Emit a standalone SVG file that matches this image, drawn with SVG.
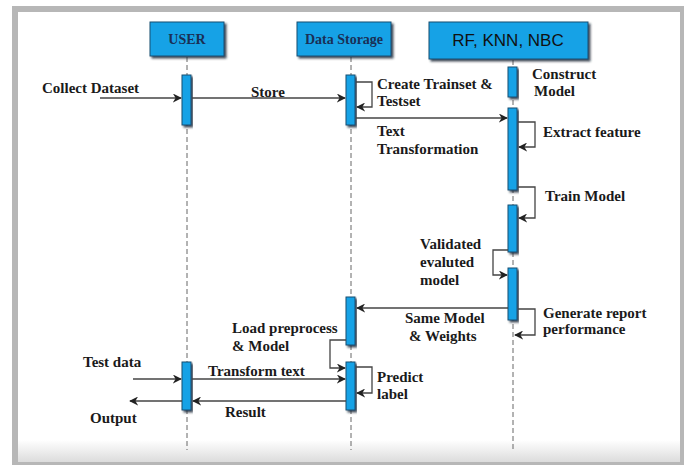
<svg xmlns="http://www.w3.org/2000/svg" width="688" height="467" viewBox="0 0 688 467">
  <defs>
    <marker id="arrow" viewBox="0 0 10 10" refX="9" refY="5" markerWidth="9" markerHeight="9" markerUnits="userSpaceOnUse" orient="auto">
      <path d="M0,0 L10,5 L0,10 L3,5 Z" fill="#222"/>
    </marker>
    <linearGradient id="bottomFade" x1="0" y1="0" x2="0" y2="1">
      <stop offset="0" stop-color="#ffffff"/>
      <stop offset="1" stop-color="#dcdcdc"/>
    </linearGradient>
    <filter id="shadow" x="-10%" y="-10%" width="130%" height="140%">
      <feDropShadow dx="2" dy="2" stdDeviation="0.8" flood-color="#1b2b3a" flood-opacity="0.85"/>
    </filter>
  </defs>
  <style>
    .frame { fill: #b7b7b7; }
    .head { fill: #13a2e6; stroke: #1d4f73; stroke-width: 1; filter: url(#shadow); }
    .bar { fill: #13a2e6; stroke: #1d4f73; stroke-width: 1; filter: url(#shadow); }
    .life { stroke: #666; stroke-width: 1; stroke-dasharray: 5 3; fill: none; }
    .msg { stroke: #444; stroke-width: 1.3; fill: none; marker-end: url(#arrow); }
    .lbl { font-family: "Liberation Serif", "Times New Roman", serif; font-weight: bold; font-size: 15px; fill: #1a1a1a; }
    .htxt { font-family: "Liberation Serif", "Times New Roman", serif; font-weight: bold; font-size: 14px; fill: #1a2f55; text-anchor: middle; }
    .hsans { font-family: "Liberation Sans", Arial, sans-serif; font-size: 17px; fill: #111; text-anchor: middle; }
  </style>

  <!-- page frame -->
  <rect class="frame" x="12" y="6" width="672" height="459"/>
  <rect x="18" y="12" width="662" height="450" fill="#ffffff"/>
  <rect x="18" y="440" width="662" height="22" fill="url(#bottomFade)"/>

  <!-- lifelines -->
  <g id="lifelines">
    <line class="life" x1="187" y1="57" x2="187" y2="450"/>
    <line class="life" x1="351" y1="57" x2="351" y2="450"/>
    <line class="life" x1="513" y1="60" x2="513" y2="450"/>
  </g>

  <!-- participants -->
  <g id="user">
    <rect class="head" x="150" y="22" width="74" height="34"/>
    <text class="htxt" x="187" y="44">USER</text>
  </g>
  <g id="data-storage">
    <rect class="head" x="297" y="22" width="94" height="34"/>
    <text class="htxt" x="344" y="44">Data Storage</text>
  </g>
  <g id="models">
    <rect class="head" x="429" y="22" width="159" height="37"/>
    <text class="hsans" x="508" y="46">RF, KNN, NBC</text>
  </g>

  <!-- activation bars -->
  <g id="activations">
    <rect class="bar" x="182" y="75" width="9" height="50"/>
    <rect class="bar" x="346" y="75" width="9" height="50"/>
    <rect class="bar" x="508" y="67" width="9" height="30"/>
    <rect class="bar" x="508" y="108" width="9" height="82"/>
    <rect class="bar" x="508" y="205" width="9" height="47"/>
    <rect class="bar" x="508" y="268" width="9" height="52"/>
    <rect class="bar" x="346" y="297" width="9" height="48"/>
    <rect class="bar" x="346" y="362" width="9" height="48"/>
    <rect class="bar" x="182" y="362" width="9" height="48"/>
  </g>

  <!-- messages -->
  <g id="connectors">
    <path class="msg" d="M100,98 L181,98"/>
    <path class="msg" d="M192,98 L345,98"/>
    <path class="msg" d="M356,82 L372,82 L372,107 L357,107"/>
    <path class="msg" d="M356,118 L507,118"/>
    <path class="msg" d="M518,122 L535,122 L535,147 L519,147"/>
    <path class="msg" d="M518,187 L535,187 L535,218 L519,218"/>
    <path class="msg" d="M508,250 L493,250 L493,275 L507,275"/>
    <path class="msg" d="M508,308 L357,308"/>
    <path class="msg" d="M518,309 L535,309 L535,335 L515,335"/>
    <path class="msg" d="M346,340 L330,340 L330,368 L345,368"/>
    <path class="msg" d="M133,379 L181,379"/>
    <path class="msg" d="M192,379 L345,379"/>
    <path class="msg" d="M356,367 L372,367 L372,393 L357,393"/>
    <path class="msg" d="M346,401 L193,401"/>
    <path class="msg" d="M182,401 L130,401"/>
  </g>

  <!-- message labels -->
  <g id="labels">
    <text class="lbl" x="42" y="93">Collect Dataset</text>
    <text class="lbl" x="251" y="97">Store</text>
    <text class="lbl" x="377" y="89">Create Trainset &amp;</text>
    <text class="lbl" x="377" y="106">Testset</text>
    <text class="lbl" x="532" y="79">Construct</text>
    <text class="lbl" x="534" y="96">Model</text>
    <text class="lbl" x="377" y="136">Text</text>
    <text class="lbl" x="377" y="154">Transformation</text>
    <text class="lbl" x="543" y="137">Extract feature</text>
    <text class="lbl" x="545" y="201">Train Model</text>
    <text class="lbl" x="420" y="249">Validated</text>
    <text class="lbl" x="420" y="267">evaluted</text>
    <text class="lbl" x="420" y="285">model</text>
    <text class="lbl" x="405" y="323">Same Model</text>
    <text class="lbl" x="409" y="341">&amp; Weights</text>
    <text class="lbl" x="543" y="318">Generate report</text>
    <text class="lbl" x="543" y="334">performance</text>
    <text class="lbl" x="232" y="333">Load preprocess</text>
    <text class="lbl" x="232" y="351">&amp; Model</text>
    <text class="lbl" x="83" y="367">Test data</text>
    <text class="lbl" x="208" y="376">Transform text</text>
    <text class="lbl" x="377" y="382">Predict</text>
    <text class="lbl" x="377" y="399">label</text>
    <text class="lbl" x="225" y="417">Result</text>
    <text class="lbl" x="90" y="423">Output</text>
  </g>
</svg>
